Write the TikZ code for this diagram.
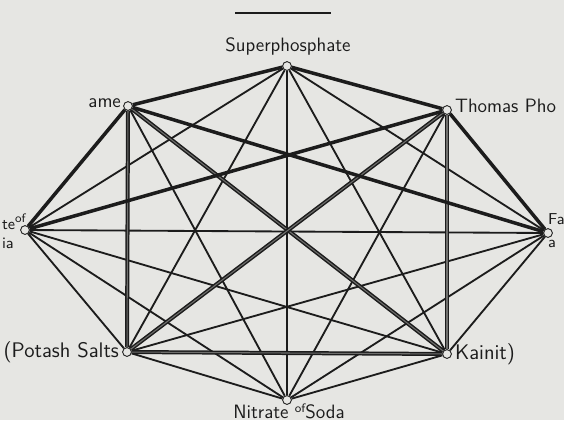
\documentclass[tikz,border=0pt]{standalone}
\usepackage{xcolor}
\usepackage{tikz}
\definecolor{MixInk}{HTML}{1C1C1C}
\definecolor{MixPaper}{HTML}{E6E6E3}
\definecolor{MixCore}{HTML}{6E6E6C}

\tikzset{
  manure/.style={circle,draw=MixInk,fill=MixPaper,line width=0.5pt,inner sep=0pt,minimum size=5pt},
  mixok/.style={draw=MixInk,line width=1.05pt},
  mixnever/.style={draw=MixInk,line width=2pt},
  mixsoon/.style={draw=MixInk,line width=0.85pt,double=MixCore,double distance=0.6pt},
  lbl/.style={text=MixInk,inner sep=1pt,font=\sffamily\fontsize{11}{12}\selectfont}
}

\begin{document}
\begin{tikzpicture}[x=0.02cm,y=-0.02cm]
\fill[MixPaper] (0,0) rectangle (564,420);
\useasboundingbox (0,0) rectangle (564,420);
\draw[MixInk,line width=1.1pt] (235,13) -- (331,13);
% the eight manures
\node[manure] (super) at (287,66) {};
\node[manure] (lime) at (128,106) {};
\node[manure] (thomas) at (447,110) {};
\node[manure] (ammon) at (25,230) {};
\node[manure] (farm) at (548,233) {};
\node[manure] (potash) at (127,352) {};
\node[manure] (kainit) at (447,354) {};
\node[manure] (nitrate) at (287,400) {};
% may be mixed
\draw[mixok] (super) -- (ammon);
\draw[mixok] (super) -- (farm);
\draw[mixok] (super) -- (potash);
\draw[mixok] (super) -- (kainit);
\draw[mixok] (super) -- (nitrate);
\draw[mixok] (lime) -- (nitrate);
\draw[mixok] (thomas) -- (nitrate);
\draw[mixok] (ammon) -- (farm);
\draw[mixok] (ammon) -- (potash);
\draw[mixok] (ammon) -- (kainit);
\draw[mixok] (ammon) -- (nitrate);
\draw[mixok] (farm) -- (potash);
\draw[mixok] (farm) -- (kainit);
\draw[mixok] (farm) -- (nitrate);
\draw[mixok] (potash) -- (nitrate);
\draw[mixok] (kainit) -- (nitrate);
% apply soon after mixing
\draw[mixsoon] (lime) -- (potash);
\draw[mixsoon] (lime) -- (kainit);
\draw[mixsoon] (thomas) -- (kainit);
\draw[mixsoon] (thomas) -- (potash);
\draw[mixsoon] (potash) -- (kainit);
% never mix
\draw[mixnever] (super) -- (lime);
\draw[mixnever] (super) -- (thomas);
\draw[mixnever] (lime) -- (ammon);
\draw[mixnever] (lime) -- (farm);
\draw[mixnever] (thomas) -- (ammon);
\draw[mixnever] (thomas) -- (farm);
% labels
\node[lbl,anchor=south] (superL) at (288,57) {Superphosphate};
\node[lbl,anchor=east] (limeL) at (123,103) {ame};
\node[lbl,anchor=west] (thomasL) at (453,106) {Thomas Pho};
\node[lbl,anchor=west,align=left,font=\sffamily\fontsize{9}{11}\selectfont] (ammonL) at (0,231) {te\raisebox{4pt}{\scriptsize of}\\ia};
\node[lbl,anchor=west,align=left,font=\sffamily\fontsize{9}{13}\selectfont] (farmL) at (546,231) {Fa\\a};
\node[lbl,anchor=east,font=\sffamily\fontsize{12}{13}\selectfont] (potashL) at (121,352) {(Potash Salts};
\node[lbl,anchor=west,font=\sffamily\fontsize{12}{13}\selectfont] (kainitL) at (453,354) {Kainit)};
\node[lbl,anchor=north] (nitrateL) at (289,402) {Nitrate \raisebox{3pt}{\scriptsize of}Soda};
\end{tikzpicture}
\end{document}
